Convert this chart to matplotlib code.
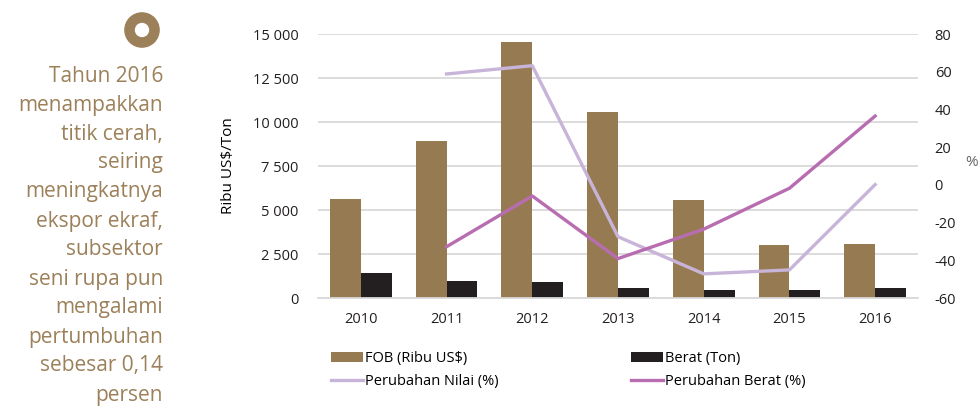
import numpy as np
import matplotlib.pyplot as plt
from matplotlib.patches import Circle

# data
years = ['2010', '2011', '2012', '2013', '2014', '2015', '2016']
fob = [5625, 8940, 14565, 10550, 5550, 3030, 3050]
berat = [1440, 965, 910, 570, 435, 435, 570]
nilai_pct = [np.nan, 58.8, 63.2, -27.5, -47.2, -45.1, 0.14]
berat_pct = [np.nan, -32.8, -5.9, -39.1, -23.5, -1.8, 36.5]

left_ticks = [0, 2500, 5000, 7500, 10000, 12500, 15000]
left_labels = ['0', '2 500', '5 000', '7 500', '10 000', '12 500', '15 000']
right_ticks = [-60, -40, -20, 0, 20, 40, 60, 80]

note_lines = ['Tahun 2016', 'menampakkan', 'titik cerah,', 'seiring',
              'meningkatnya', 'ekspor ekraf,', 'subsektor', 'seni rupa pun',
              'mengalami', 'pertumbuhan', 'sebesar 0,14', 'persen']

c_fob = '#967B52'
c_berat = '#231F20'
c_nilai = '#C8B4D8'
c_bpct = '#B86DB0'
c_note = '#9C8059'

plt.rcParams['font.family'] = ['Open Sans', 'DejaVu Sans']
plt.rcParams['axes.unicode_minus'] = False

fig = plt.figure(figsize=(9.79, 4.12), dpi=100)
ax = fig.add_axes([318 / 979, 1 - 298 / 412, 600 / 979, 264 / 412])

x = np.arange(len(years))
w = 0.36
ax.bar(x - w / 2, fob, w, color=c_fob, label='FOB (Ribu US$)', zorder=2)
ax.bar(x + w / 2, berat, w, color=c_berat, label='Berat (Ton)', zorder=2)
ax.set_xlim(-0.5, len(years) - 0.5)
ax.set_ylim(0, 15000)
ax.set_yticks(left_ticks)
ax.set_yticklabels(left_labels)
ax.set_xticks(x)
ax.set_xticklabels(years)
ax.grid(axis='y', color='#D9D9D9', linewidth=1.3, zorder=0)
ax.set_axisbelow(True)
for s in ['top', 'right', 'left']:
    ax.spines[s].set_visible(False)
ax.spines['bottom'].set_color('#D9D9D9')
ax.spines['bottom'].set_linewidth(1.3)
ax.tick_params(length=0, labelsize=10.5, colors='#231F20')
ax.tick_params(axis='x', pad=10)
ax.tick_params(axis='y', pad=14)
ax.set_ylabel('Ribu US$/Ton', fontsize=11, labelpad=12)

ax2 = ax.twinx()
ax2.plot(x, nilai_pct, color=c_nilai, lw=2.4, label='Perubahan Nilai (%)')
ax2.plot(x, berat_pct, color=c_bpct, lw=2.4, label='Perubahan Berat (%)')
ax2.set_ylim(-60, 80)
ax2.set_yticks(right_ticks)
for s in ax2.spines.values():
    s.set_visible(False)
ax2.tick_params(length=0, labelsize=10.5, colors='#231F20', pad=12)
fig.text(972 / 979, 1 - 163 / 412, '%', ha='center', va='center',
         fontsize=11, color='#666666')

h1, l1 = ax.get_legend_handles_labels()
h2, l2 = ax2.get_legend_handles_labels()
handles = [h1[0], h2[0], h1[1], h2[1]]
labels = [l1[0], l2[0], l1[1], l2[1]]
fig.legend(handles, labels, ncol=2, frameon=False, fontsize=10.5,
           loc='upper left', bbox_to_anchor=(318 / 979, 1 - 338 / 412),
           handlelength=2.2, handletextpad=0.1, columnspacing=9.1,
           labelspacing=0.55)

# side note with round icon
ax_icon = fig.add_axes([124 / 979, 1 - 48 / 412, 36 / 979, 36 / 412])
ax_icon.set_xlim(-1, 1)
ax_icon.set_ylim(-1, 1)
ax_icon.set_aspect('equal')
ax_icon.axis('off')
ax_icon.add_patch(Circle((0, 0), 0.95, color=c_note))
ax_icon.add_patch(Circle((0, 0), 0.36, color='white'))

for i, line in enumerate(note_lines):
    fig.text(163 / 979, 1 - (76 + i * 29) / 412, line, ha='right', va='center',
             fontsize=15, color=c_note)

fig.savefig('out.png', dpi=100)
